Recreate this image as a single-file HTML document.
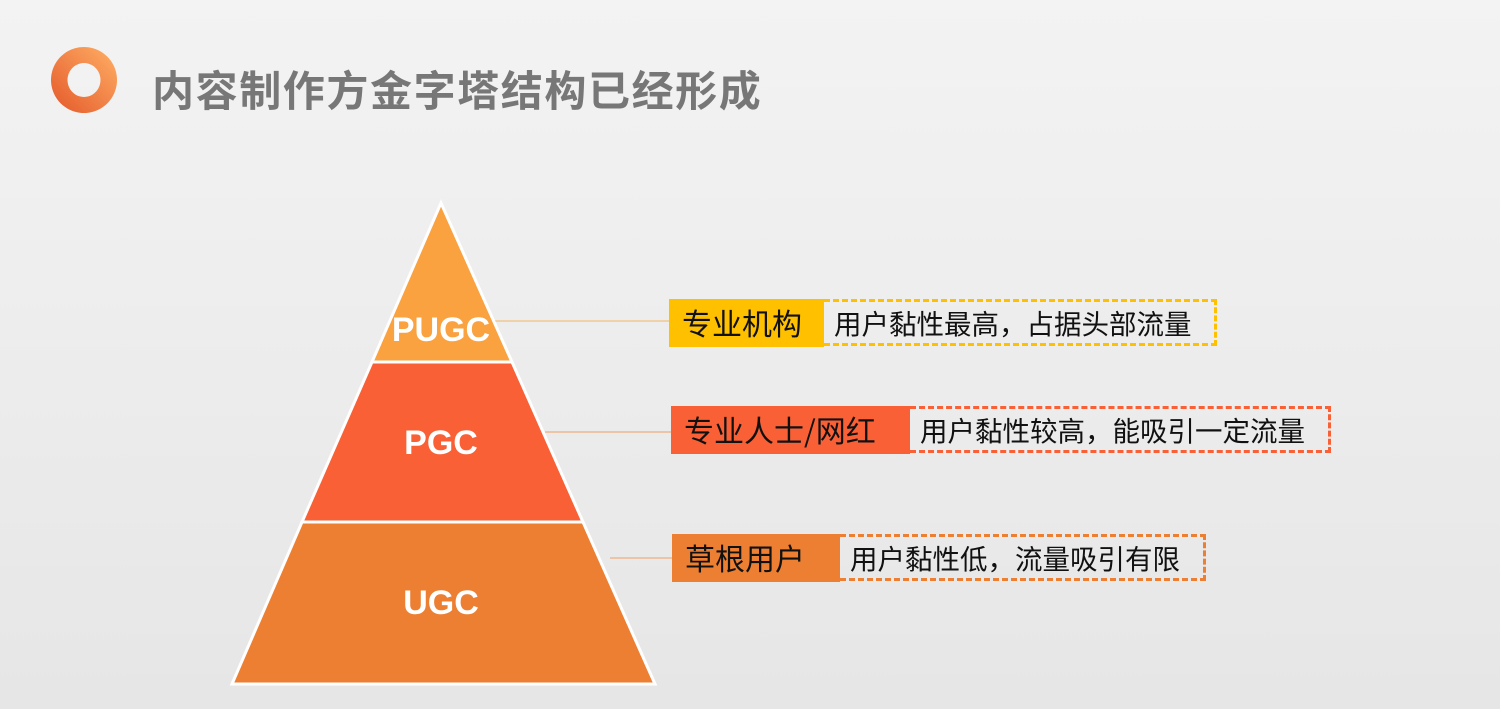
<!DOCTYPE html>
<html><head><meta charset="utf-8"><style>
html,body{margin:0;padding:0}
body{width:1500px;height:709px;overflow:hidden;background:linear-gradient(#f3f3f3,#e6e6e6);position:relative;font-family:"Liberation Sans","Noto Sans CJK SC",sans-serif}
.t{position:absolute;left:152px;top:60px;font-size:42px;font-weight:bold;color:#777;letter-spacing:1.6px;line-height:58px;font-family:"Noto Sans CJK SC",sans-serif;white-space:nowrap}
.lab{position:absolute;height:48px;line-height:46px;font-size:30px;color:#111;padding-left:13px;box-sizing:border-box;font-family:"Noto Sans CJK SC",sans-serif;white-space:nowrap}
.desc{position:absolute;height:47px;line-height:40px;font-size:27.5px;color:#111;padding-left:10px;box-sizing:border-box;border:3px dashed;border-left:none;font-family:"Noto Sans CJK SC",sans-serif;white-space:nowrap}
</style></head><body>
<svg width="1500" height="709" style="position:absolute;left:0;top:0">
<defs><linearGradient id="g" x1="1" y1="0" x2="0" y2="1"><stop offset="0" stop-color="#FFB066"/><stop offset="1" stop-color="#E4582A"/></linearGradient></defs>
<path d="M84,47a33,33 0 1,0 0.01,0zM84,63a16.5,17 0 1,1 -0.01,0z" fill="url(#g)" fill-rule="evenodd"/>
<line x1="495" y1="321" x2="669" y2="321" stroke="#f2c890" stroke-width="1.5"/>
<line x1="545" y1="432" x2="671" y2="432" stroke="#f0b890" stroke-width="1.5"/>
<line x1="610" y1="558" x2="672" y2="558" stroke="#f0b890" stroke-width="1.5"/>
<polygon points="441,203 512,362 372,362" fill="#F9A23F" stroke="#fff" stroke-width="3"/>
<polygon points="372,362 512,362 583,522 302,522" fill="#F96035" stroke="#fff" stroke-width="3"/>
<polygon points="302,522 583,522 655,684 232,684" fill="#EC7F32" stroke="#fff" stroke-width="3"/>
<g font-family="Liberation Sans" font-weight="bold" font-size="34" fill="#fff" text-anchor="middle">
<text x="441" y="341">PUGC</text><text x="441" y="454">PGC</text><text x="441" y="614">UGC</text></g>
</svg>
<div class="t">内容制作方金字塔结构已经形成</div>
<div class="lab" style="left:669px;top:299px;width:155px;background:#FFC000">专业机构</div>
<div class="desc" style="left:824px;top:299px;width:393px;border-color:#FFC000">用户黏性最高，占据头部流量</div>
<div class="lab" style="left:671px;top:406px;width:239px;background:#F96035">专业人士/网红</div>
<div class="desc" style="left:910px;top:406px;width:421px;border-color:#F96035">用户黏性较高，能吸引一定流量</div>
<div class="lab" style="left:672px;top:534px;width:168px;background:#EC7F32">草根用户</div>
<div class="desc" style="left:840px;top:534px;width:366px;border-color:#EC7F32">用户黏性低，流量吸引有限</div>
</body></html>
